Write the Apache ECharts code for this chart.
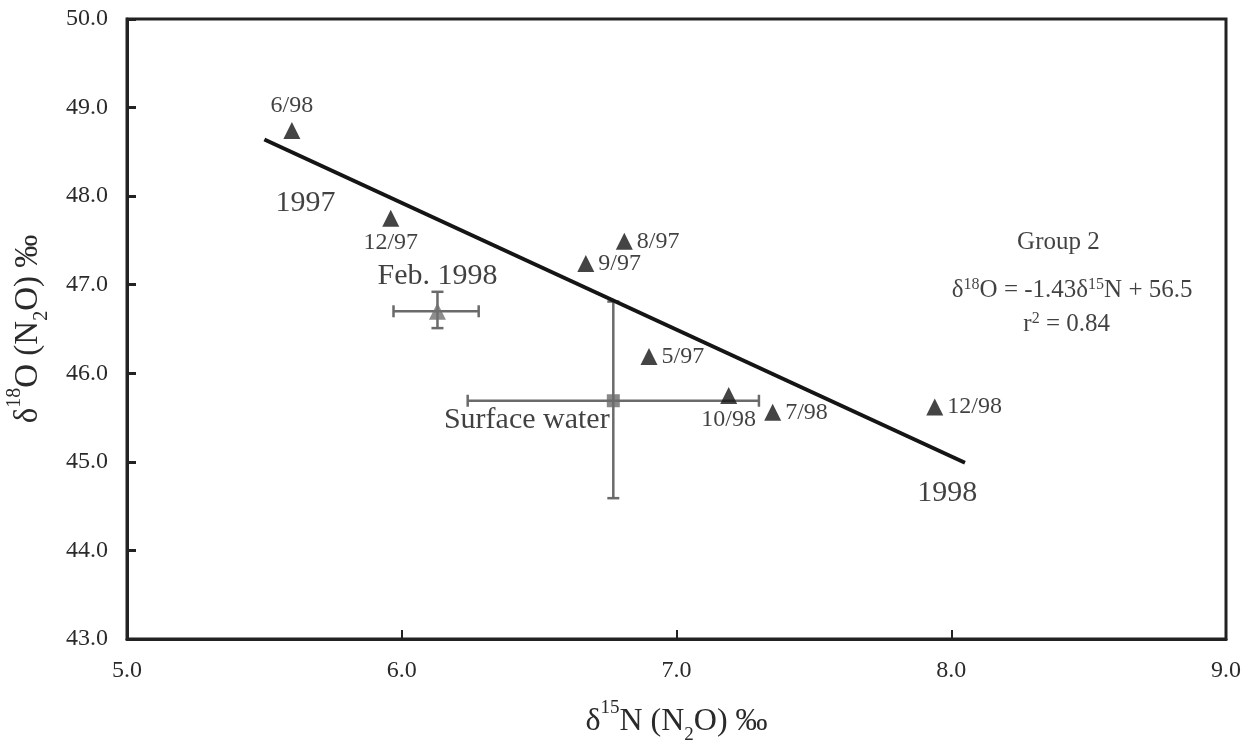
<!DOCTYPE html>
<html>
<head>
<meta charset="utf-8">
<script src="https://cdn.jsdelivr.net/npm/echarts@6/dist/echarts.min.js"></script>
<style>html,body{margin:0;padding:0;background:#fff;}#c{width:1252px;height:748px;}</style>
</head>
<body>
<div id="c"></div>
<script>
// Monthly samples (Group 2)
const sampleLabels = ['6/98', '12/97', '8/97', '9/97', '5/97', '10/98', '7/98', '12/98'];
const sampleN15   = [5.60, 5.96, 6.81, 6.67, 6.90, 7.19, 7.35, 7.94];
const sampleO18   = [48.74, 47.75, 47.49, 47.24, 46.19, 45.75, 45.56, 45.62];

// Regression line end points (δ18O = -1.43 δ15N + 56.5)
const fitN15 = [5.50, 8.05];
const fitO18 = [48.64, 44.99];

// Means with error bars: [mean, low, high]
const febN15 = [6.13, 5.97, 6.28];
const febO18 = [46.70, 46.51, 46.92];
const swN15  = [6.77, 6.24, 7.30];
const swO18  = [45.69, 44.59, 46.81];

// Axis ticks
const xTicks = [5.0, 6.0, 7.0, 8.0, 9.0];
const yTicks = [43.0, 44.0, 45.0, 46.0, 47.0, 48.0, 49.0, 50.0];

// Text annotations anchored in data coordinates
const annoText = ['1997', '1998', 'Feb. 1998', 'Surface water', 'Group 2',
  'δ{sup|18}O = -1.43δ{sup|15}N + 56.5', 'r{sup|2} = 0.84'];
const annoN15 = [5.65, 7.985, 6.13, 6.455, 8.39, 8.44, 8.42];
const annoO18 = [47.92, 44.65, 47.10, 45.47, 47.48, 46.93, 46.55];

const FONT = "'Liberation Serif', 'Times New Roman', serif";
const labelPos = {'6/98':'top','12/97':'bottom','10/98':'bottom'};
const labelSize = [30, 30, 30, 30, 25, 25, 25];

const chart = echarts.init(document.getElementById('c'));
const supRich = {
  sup: {fontSize: 16, fontFamily: FONT, color: '#111', verticalAlign: 'top', lineHeight: 28}
};

chart.setOption({
  animation: false,
  backgroundColor: '#fff',
  grid: {left: 127, right: 26, top: 19, bottom: 109, containLabel: false, outerBoundsMode: 'none',
    show: true, borderColor: '#222', borderWidth: 3, backgroundColor: 'transparent'},
  xAxis: {
    type: 'value', min: xTicks[0], max: xTicks[xTicks.length - 1], interval: 1,
    axisLine: {lineStyle: {color: '#222', width: 3}},
    axisTick: {inside: true, length: 9, lineStyle: {color: '#222', width: 2}},
    splitLine: {show: false},
    axisLabel: {margin: 20, fontFamily: FONT, fontSize: 24, color: '#2a2a2a', formatter: v => v.toFixed(1)},
    name: 'δ{s|15}N (N{b|2}O) ‰',
    nameLocation: 'middle', nameGap: 60,
    nameTextStyle: {fontFamily: FONT, fontSize: 32, color: '#2a2a2a',
      rich: {s: {fontSize: 19, fontFamily: FONT, color: '#2a2a2a', verticalAlign: 'top', lineHeight: 34},
             b: {fontSize: 19, fontFamily: FONT, color: '#2a2a2a', verticalAlign: 'bottom', lineHeight: 46}}}
  },
  yAxis: {
    type: 'value', min: yTicks[0], max: yTicks[yTicks.length - 1], interval: 1,
    axisLine: {lineStyle: {color: '#222', width: 3}},
    axisTick: {inside: true, length: 9, lineStyle: {color: '#222', width: 3}},
    splitLine: {show: false},
    axisLabel: {margin: 19, fontFamily: FONT, fontSize: 24, color: '#2a2a2a', formatter: v => v.toFixed(1)},
    name: 'δ{s|18}O (N{b|2}O) ‰',
    nameLocation: 'middle', nameGap: 75, nameRotate: 90,
    nameTextStyle: {fontFamily: FONT, fontSize: 33, color: '#2a2a2a',
      rich: {s: {fontSize: 20, fontFamily: FONT, color: '#2a2a2a', verticalAlign: 'top', lineHeight: 35},
             b: {fontSize: 20, fontFamily: FONT, color: '#2a2a2a', verticalAlign: 'bottom', lineHeight: 47}}}
  },
  series: [
    {
      type: 'line', data: fitN15.map((x, i) => [x, fitO18[i]]),
      symbol: 'none', lineStyle: {color: '#151515', width: 4}, z: 3
    },
    {
      type: 'custom',
      data: [
        [febN15[0], febO18[0], febN15[1], febN15[2], febO18[1], febO18[2]],
        [swN15[0], swO18[0], swN15[1], swN15[2], swO18[1], swO18[2]]
      ],
      renderItem: function (params, api) {
        const x = api.value(0), y = api.value(1);
        const L = api.coord([api.value(2), y]), R = api.coord([api.value(3), y]);
        const B = api.coord([x, api.value(4)]), T = api.coord([x, api.value(5)]);
        const st = {stroke: '#6a6a6a', lineWidth: 2.5};
        const cap = 6;
        const seg = (x1, y1, x2, y2) => ({type: 'line', shape: {x1, y1, x2, y2}, style: st});
        return {type: 'group', children: [
          seg(L[0], L[1], R[0], R[1]),
          seg(L[0], L[1] - cap, L[0], L[1] + cap),
          seg(R[0], R[1] - cap, R[0], R[1] + cap),
          seg(B[0], B[1], T[0], T[1]),
          seg(B[0] - cap, B[1], B[0] + cap, B[1]),
          seg(T[0] - cap, T[1], T[0] + cap, T[1])
        ]};
      },
      z: 2
    },
    {
      type: 'scatter', symbol: 'triangle', symbolSize: 17,
      itemStyle: {color: '#707070'},
      data: [[febN15[0], febO18[0]]], z: 4
    },
    {
      type: 'scatter', symbol: 'rect', symbolSize: 13,
      itemStyle: {color: '#6a6a6a'},
      data: [[swN15[0], swO18[0]]], z: 4
    },
    {
      type: 'scatter', symbol: 'triangle', symbolSize: 17,
      itemStyle: {color: '#151515'},
      data: sampleLabels.map((name, i) => ({
        name: name, value: [sampleN15[i], sampleO18[i]],
        label: {show: true, position: labelPos[name] || 'right', distance: 4}
      })),
      label: {formatter: '{b}', fontFamily: FONT, fontSize: 24, color: '#111'},
      z: 5
    },
    {
      type: 'scatter', symbolSize: 0, silent: true,
      data: annoText.map((t, i) => ({
        value: [annoN15[i], annoO18[i]],
        label: {show: true, position: 'inside', formatter: t, fontSize: labelSize[i],
          fontFamily: FONT, color: '#111', rich: supRich}
      })),
      z: 6
    }
  ]
});
</script>
</body>
</html>
